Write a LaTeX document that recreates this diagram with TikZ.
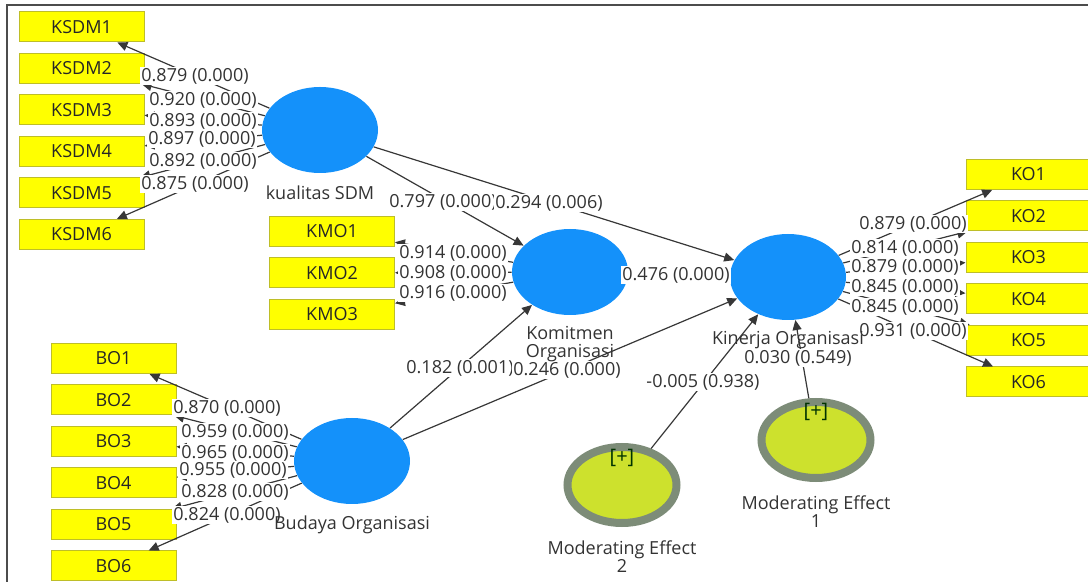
\documentclass[tikz,border=0pt]{standalone}
\usepackage{fontspec}
\setmainfont{Open Sans}
\usetikzlibrary{positioning,shapes.geometric,arrows.meta}
\definecolor{lvblue}{RGB}{20,145,250}
\definecolor{indyellow}{RGB}{255,255,0}
\definecolor{indedge}{RGB}{190,190,40}
\definecolor{modfill}{RGB}{205,225,45}
\definecolor{modring}{RGB}{125,140,120}
\definecolor{pathgray}{RGB}{55,55,55}
\newcommand{\txtsize}{\fontsize{9}{9}\selectfont}
\tikzset{
  lv/.style = {ellipse, fill=lvblue, minimum width=58pt, minimum height=43pt, inner sep=0pt},
  mod/.style = {ellipse, fill=modfill, draw=modring, line width=4pt, minimum width=54.5pt, minimum height=38pt, inner sep=0pt},
  ind/.style = {rectangle, fill=indyellow, draw=indedge, line width=0.5pt, minimum width=62.5pt, minimum height=15pt, inner sep=0pt, font=\txtsize, text=black!85},
  lvlabel/.style = {font=\txtsize, text=black!80, inner sep=0pt, align=center},
  val/.style = {font=\txtsize, text=black!80, fill=white, inner sep=0.5pt},
  plus/.style = {font=\fontsize{10}{10}\selectfont, text=black!80!green, inner sep=0pt},
  load/.style = {draw=pathgray, line width=0.6pt, -{Triangle[length=5pt,width=4.5pt]}}
}

\begin{document}
\begin{tikzpicture}[x=0.5pt,y=-0.5pt,node distance=5.25pt]
        \useasboundingbox (0,0) rectangle (1088,582);
        % frame
        \draw[black!70, line width=1pt] (7,582) -- (7,5) -- (1088,5);
        % latent variables
        \node[lv] (ksdm) at (320,130) {};
        \node[lv] (kmo) at (570,272) {};
        \node[lv] (ko) at (788,277) {};
        \node[lv] (bo) at (352,461) {};
        \node[mod] (me1) at (816,440) {};
        \node[mod] (me2) at (622,485) {};
        \node[plus] (me1plus) at (816,412) {[+]};
        \node[plus] (me2plus) at (622,458) {[+]};
        % indicators
        \node[ind] (ksdm1) at (81.5,27) {KSDM1};
        \node[ind, below=of ksdm1] (ksdm2) {KSDM2};
        \node[ind, below=of ksdm2] (ksdm3) {KSDM3};
        \node[ind, below=of ksdm3] (ksdm4) {KSDM4};
        \node[ind, below=of ksdm4] (ksdm5) {KSDM5};
        \node[ind, below=of ksdm5] (ksdm6) {KSDM6};
        \node[ind] (kmo1) at (332,231.5) {KMO1};
        \node[ind, below=of kmo1] (kmo2) {KMO2};
        \node[ind, below=of kmo2] (kmo3) {KMO3};
        \node[ind] (bo1) at (113.5,358.5) {BO1};
        \node[ind, below=of bo1] (bo2) {BO2};
        \node[ind, below=of bo2] (bo3) {BO3};
        \node[ind, below=of bo3] (bo4) {BO4};
        \node[ind, below=of bo4] (bo5) {BO5};
        \node[ind, below=of bo5] (bo6) {BO6};
        \node[ind] (ko1) at (1028.5,174.5) {KO1};
        \node[ind, below=of ko1] (ko2) {KO2};
        \node[ind, below=of ko2] (ko3) {KO3};
        \node[ind, below=of ko3] (ko4) {KO4};
        \node[ind, below=of ko4] (ko5) {KO5};
        \node[ind, below=of ko5] (ko6) {KO6};
        % outer loadings
        \draw[load] (ksdm) -- (ksdm1);
        \draw[load] (ksdm) -- (ksdm2);
        \draw[load] (ksdm) -- (ksdm3);
        \draw[load] (ksdm) -- (ksdm4);
        \draw[load] (ksdm) -- (ksdm5);
        \draw[load] (ksdm) -- (ksdm6);
        \draw[load] (kmo) -- (kmo1);
        \draw[load] (kmo) -- (kmo2);
        \draw[load] (kmo) -- (kmo3);
        \draw[load] (bo) -- (bo1);
        \draw[load] (bo) -- (bo2);
        \draw[load] (bo) -- (bo3);
        \draw[load] (bo) -- (bo4);
        \draw[load] (bo) -- (bo5);
        \draw[load] (bo) -- (bo6);
        \draw[load] (ko) -- (ko1);
        \draw[load] (ko) -- (ko2);
        \draw[load] (ko) -- (ko3);
        \draw[load] (ko) -- (ko4);
        \draw[load] (ko) -- (ko5);
        \draw[load] (ko) -- (ko6);
        % inner model
        \draw[load] (ksdm) -- (kmo);
        \draw[load] (ksdm) -- (ko);
        \draw[load] (kmo) -- (ko);
        \draw[load] (bo) -- (kmo);
        \draw[load] (bo) -- (ko);
        \draw[load] (me2) -- (ko);
        \draw[load] (me1) -- (ko);
        % values
        \node[val] (vksdm1) at (195,76) {0.879 (0.000)};
        \node[val] (vksdm2) at (203,100) {0.920 (0.000)};
        \node[val] (vksdm3) at (203,121) {0.893 (0.000)};
        \node[val] (vksdm4) at (202,139) {0.897 (0.000)};
        \node[val] (vksdm5) at (203,161) {0.892 (0.000)};
        \node[val] (vksdm6) at (195,184) {0.875 (0.000)};
        \node[val] (vkmo1) at (453,253) {0.914 (0.000)};
        \node[val] (vkmo2) at (453,273) {0.908 (0.000)};
        \node[val] (vkmo3) at (453,293) {0.916 (0.000)};
        \node[val] (vbo1) at (227,408) {0.870 (0.000)};
        \node[val] (vbo2) at (235,432) {0.959 (0.000)};
        \node[val] (vbo3) at (235,453) {0.965 (0.000)};
        \node[val] (vbo4) at (233,470) {0.955 (0.000)};
        \node[val] (vbo5) at (235,492) {0.828 (0.000)};
        \node[val] (vbo6) at (227,515) {0.824 (0.000)};
        \node[val] (vko1) at (913,224) {0.879 (0.000)};
        \node[val] (vko2) at (905,248) {0.814 (0.000)};
        \node[val] (vko3) at (905,267) {0.879 (0.000)};
        \node[val] (vko4) at (905,287) {0.845 (0.000)};
        \node[val] (vko5) at (905,307) {0.845 (0.000)};
        \node[val] (vko6) at (913,331) {0.931 (0.000)};
        \node[val] (vksdmkmo) at (443,202) {0.797 (0.000)};
        \node[val] (vksdmko) at (549,203) {0.294 (0.006)};
        \node[val] (vkmoko) at (676,275) {0.476 (0.000)};
        \node[val] (vbokmo) at (460,368) {0.182 (0.001)};
        \node[val] (vboko) at (567,370) {0.246 (0.000)};
        \node[val] (vme2) at (703,382) {-0.005 (0.938)};
        \node[val] (vme1) at (798,358) {0.030 (0.549)};
        % names
        \node[lvlabel] (ksdmtxt) at (320,193) {kualitas SDM};
        \node[lvlabel] (kmotxt) at (570,344) {Komitmen\\Organisasi};
        \node[lvlabel] (kotxt) at (788,340) {Kinerja Organisasi};
        \node[lvlabel] (botxt) at (352,525) {Budaya Organisasi};
        \node[lvlabel] (me1txt) at (816,512) {Moderating Effect\\1};
        \node[lvlabel] (me2txt) at (622,557) {Moderating Effect\\2};
    \end{tikzpicture}
\end{document}
